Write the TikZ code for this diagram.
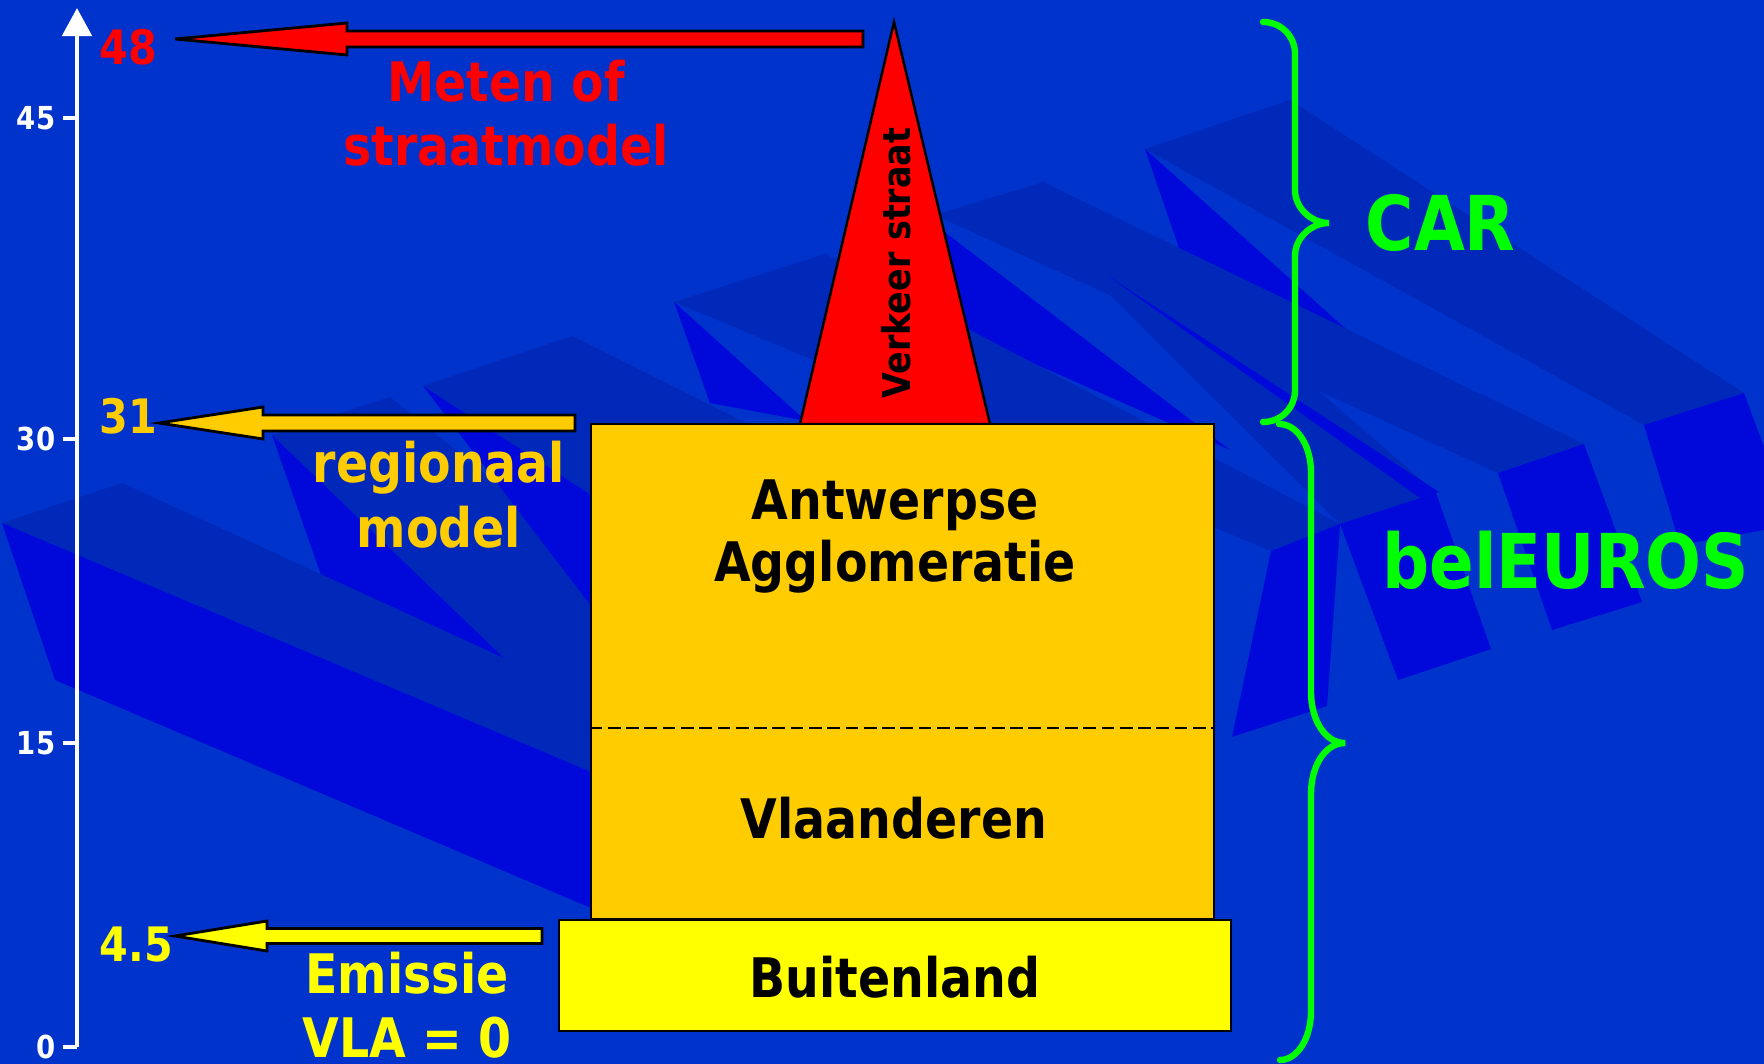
\documentclass[tikz,border=0pt]{standalone}
\usepackage{fontspec}
\setmainfont{DejaVu Sans}[FakeStretch=0.87]
\usepackage{tikz}
\usetikzlibrary{arrows.meta,calc}

\definecolor{bgblue}{HTML}{0033CC}
\definecolor{slabdark}{HTML}{0029BA}
\definecolor{slabbright}{HTML}{0008DA}
\definecolor{streetred}{HTML}{FF0000}
\definecolor{regorange}{HTML}{FFCC00}
\definecolor{emisyellow}{HTML}{FFFF00}
\definecolor{bracegreen}{HTML}{00FF00}

% block arrow: tip, tail, head length, head half width, shaft half width, fill
\newcommand{\blockarrow}[6]{%
  \draw[blockarr, fill=#6] (#1) -- ($(#1)+(#3,#4)$) -- ($(#1)+(#3,#5)$)
    -- ($(#2)+(0,#5)$) -- ($(#2)+(0,-#5)$) -- ($(#1)+(#3,-#5)$)
    -- ($(#1)+(#3,-#4)$) -- cycle;}

\begin{document}
\begin{tikzpicture}[
  x=0.01cm, y=-0.01cm,
  ticklbl/.style={font=\fontsize{9}{11}\selectfont\bfseries, text=white, anchor=east, inner sep=0pt},
  numlbl/.style={font=\fontsize{13.5}{16}\selectfont\bfseries, anchor=base west, inner sep=0pt},
  sidelbl/.style={font=\fontsize{15.5}{18.2}\selectfont\bfseries, align=center, anchor=base, inner sep=0pt},
  layer/.style={draw=black, line width=0.7pt, inner sep=0pt},
  layertxt/.style={font=\fontsize{15.5}{17.5}\selectfont\bfseries, align=center, anchor=base, inner sep=0pt},
  blockarr/.style={draw=black, line width=0.8pt},
  axisline/.style={draw=white, line width=1.4pt},
  modelbrace/.style={draw=bracegreen, line width=1.8pt, line cap=round},
  modelname/.style={font=\fontsize{21.5}{24}\selectfont\bfseries, text=bracegreen, anchor=base west, inner sep=0pt},
  slabtop/.style={fill=slabdark},
  slabfront/.style={fill=slabbright}
]
\useasboundingbox (0,0) rectangle (1764,1064);
\fill[bgblue] (0,0) rectangle (1764,1064);

% background slabs
\fill[slabtop] (1145,149) -- (1290,100) -- (1744,393) -- (1644,425) -- cycle;
\fill[slabfront] (1145,149) -- (1180,251) -- (1356,338) -- cycle;
\fill[slabfront] (1644,425) -- (1744,393) -- (1764,447) -- (1764,530) -- (1680,545) -- cycle;
\fill[slabtop] (935,215) -- (1043,182) -- (1584,444) -- (1498,473) -- cycle;
\fill[slabfront] (942,230) -- (958,330) -- (1230,450) -- cycle;
\fill[slabfront] (1498,473) -- (1584,444) -- (1642,602) -- (1552,630) -- cycle;
\fill[slabtop] (1100,285) -- (1170,262) -- (1436,493) -- (1340,524) -- cycle;
\fill[slabfront] (1108,276) -- (1439,492) -- (1420,498) -- cycle;
\fill[slabfront] (1340,524) -- (1436,493) -- (1491,649) -- (1398,680) -- cycle;
\fill[slabtop] (674,302) -- (825,254) -- (1340,524) -- (1271,551) -- cycle;
\fill[slabfront] (674,302) -- (710,403) -- (806,421) -- cycle;
\fill[slabfront] (1271,551) -- (1340,524) -- (1327,706) -- (1232,737) -- cycle;
\fill[slabtop] (272,435) -- (390,397) -- (591,560) -- (591,720) -- (509,663) -- cycle;
\fill[slabfront] (272,435) -- (321,575) -- (509,663) -- cycle;
\fill[slabtop] (423,386) -- (572,336) -- (760,430) -- (591,495) -- cycle;
\fill[slabfront] (423,386) -- (591,606) -- (591,495) -- cycle;
\fill[slabtop] (2,523) -- (122,483) -- (591,698) -- (591,772) -- cycle;
\fill[slabfront] (2,523) -- (55,680) -- (591,908) -- (591,772) -- cycle;

% axis
\coordinate (ax0) at (77,1047);
\coordinate (axtop) at (77,8);
\draw[axisline, -{Triangle[width=0.29cm,length=0.28cm]}] (ax0) -- (axtop);
\draw[axisline] (63,1047) -- (77,1047);
\draw[axisline] (63,743) -- (77,743);
\draw[axisline] (63,439) -- (77,439);
\draw[axisline] (63,118) -- (77,118);
\node[ticklbl] (t0) at (56,1047) {0};
\node[ticklbl] (t15) at (56,743) {15};
\node[ticklbl] (t30) at (56,439) {30};
\node[ticklbl] (t45) at (56,118) {45};

% street peak
\coordinate (apex) at (894,22);
\coordinate (peakL) at (800,424);
\coordinate (peakR) at (990,424);
\draw[fill=streetred, line width=0.7pt] (peakL) -- (apex) -- (peakR) -- cycle;
\node[rotate=90, font=\fontsize{10.9}{13}\selectfont\bfseries, inner sep=0pt] (verkeer) at (896.5,263) {Verkeer straat};

% layers
\node[layer, fill=regorange, minimum width=6.23cm, minimum height=4.95cm] (agglo) at (902.5,671.5) {};
\draw[line width=0.7pt, dash pattern=on 3.6pt off 1.6pt] (agglo.west |- 0,728) -- (agglo.east |- 0,728);
\node[layer, fill=emisyellow, minimum width=6.72cm, minimum height=1.11cm] (buiten) at (895,975.5) {};
\node[layertxt] (antw) at (895,581) {Antwerpse\\Agglomeratie};
\node[layertxt] (vla) at (894,838) {Vlaanderen};
\node[layertxt] (buitentxt) at (895,997) {Buitenland};

% block arrows and their labels
\coordinate (tip48) at (175,39);
\coordinate (tail48) at (863,39);
\blockarrow{tip48}{tail48}{172}{16}{8}{streetred}
\node[numlbl, text=streetred] (n48) at (99,65) {48};
\node[sidelbl, text=streetred] (meten) at (506,166) {Meten of\\straatmodel};

\coordinate (tip31) at (159,423);
\coordinate (tail31) at (575,423);
\blockarrow{tip31}{tail31}{104}{16}{8}{regorange}
\node[numlbl, text=regorange] (n31) at (99,433) {31};
\node[sidelbl, text=regorange] (regio) at (439,547) {regionaal\\model};

\coordinate (tip45) at (175,936);
\coordinate (tail45) at (542,936);
\blockarrow{tip45}{tail45}{92}{15}{7.5}{emisyellow}
\node[numlbl, text=emisyellow] (n45) at (99,961) {4.5};
\node[sidelbl, text=emisyellow] (emis) at (407,1057) {Emissie\\VLA = 0};

% model braces
\draw[modelbrace] (1263,22) .. controls (1281,22) and (1295,36) .. (1295,54)
  -- (1295,190) .. controls (1295,208) and (1311,223) .. (1329,223)
  .. controls (1311,223) and (1295,238) .. (1295,256)
  -- (1295,390) .. controls (1295,408) and (1281,422) .. (1263,422);
\draw[modelbrace] (1279,424) .. controls (1297,424) and (1311,445) .. (1311,473)
  -- (1311,692) .. controls (1311,720) and (1325,743) .. (1345,743)
  .. controls (1325,743) and (1311,766) .. (1311,794)
  -- (1311,1011) .. controls (1311,1039) and (1297,1060) .. (1280,1060);
\node[modelname] (car) at (1365,251) {CAR};
\node[modelname] (beleuros) at (1382,588) {belEUROS};
\end{tikzpicture}
\end{document}
